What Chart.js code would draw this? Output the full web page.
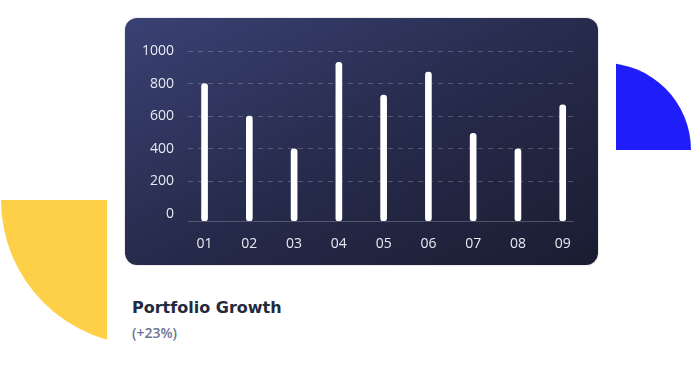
<!DOCTYPE html>
<html>
<head>
<meta charset="utf-8">
<script src="https://cdn.jsdelivr.net/npm/chart.js@4"></script>
<style>
  html, body { margin:0; padding:0; background:#ffffff; width:691px; height:380px; overflow:hidden; }
  #yellowClip { position:absolute; left:0; top:200px; width:107px; height:150px; overflow:hidden; }
  #yellow { position:absolute; left:1px; top:-145px; width:290px; height:290px; border-radius:50%; background:#fdd048; }
  #blueClip { position:absolute; left:616px; top:0; width:75px; height:150px; overflow:hidden; }
  #blue { position:absolute; left:-99px; top:63px; width:174px; height:174px; border-radius:50%; background:#1f1efb; }
  #card { position:absolute; left:125px; top:18px; width:473px; height:247px; border-radius:12px;
          background:linear-gradient(to bottom right, #3a4274 0%, #272b4c 50%, #1a1d31 100%);
          box-shadow:0 0 2px rgba(0,0,0,0.25); }
  #card canvas { position:absolute; left:0; top:0; }
  #title { position:absolute; left:132px; top:298px; font:bold 16px "DejaVu Sans", sans-serif; color:#232a3e; white-space:nowrap; }
  #sub { position:absolute; left:132px; top:323px; font:600 14px "Open Sans", sans-serif; color:#6b7494; white-space:nowrap; }
</style>
</head>
<body>
<div id="yellowClip"><div id="yellow"></div></div>
<div id="blueClip"><div id="blue"></div></div>
<div id="card"><canvas id="c" width="473" height="247"></canvas></div>
<div id="title">Portfolio Growth</div>
<div id="sub">(+23%)</div>
<script>
const categories = ['01','02','03','04','05','06','07','08','09'];
const values = [800, 600, 400, 930, 730, 870, 495, 400, 670];
const yTicks = [0, 200, 400, 600, 800, 1000];

const canvas = document.getElementById('c');
new Chart(canvas, {
  type: 'bar',
  data: {
    datasets: [{
      data: values.map((v, i) => ({ x: i + 1, y: v })),
      backgroundColor: '#ffffff',
      borderWidth: 0,
      barThickness: 6,
      borderRadius: 3,
      borderSkipped: false,
      base: -43
    }]
  },
  options: {
    responsive: false,
    animation: false,
    maintainAspectRatio: false,
    layout: { padding: { top: 33, right: 25, bottom: 0, left: 0 } },
    plugins: { legend: { display: false }, tooltip: { enabled: false } },
    scales: {
      x: {
        type: 'linear',
        offset: false,
        min: 0.63,
        max: 9.23,
        afterBuildTicks: s => { s.ticks = categories.map((c, i) => ({ value: i + 1 })); },
        afterFit: s => { s.height = 44; },
        grid: { display: true, color: 'rgba(0,0,0,0)', drawTicks: false, offset: false },
        border: { display: true, color: 'rgba(255,255,255,0.22)', width: 1 },
        ticks: {
          color: '#e8eaf2',
          font: { family: '"Open Sans", sans-serif', size: 14, weight: 500 },
          padding: 15,
          maxRotation: 0,
          autoSkip: false,
          callback: v => categories[Math.round(v) - 1]
        }
      },
      y: {
        min: -43,
        max: 1000,
        afterBuildTicks: s => { s.ticks = yTicks.map(v => ({ value: v })); },
        afterFit: s => { s.width = 63; },
        grid: {
          color: ctx => (ctx.tick && ctx.tick.value === 0) ? 'rgba(0,0,0,0)' : 'rgba(255,255,255,0.22)',
          drawTicks: false,
          lineWidth: 1
        },
        border: { display: false, dash: [5, 5] },
        ticks: {
          color: '#e8eaf2',
          font: { family: '"Open Sans", sans-serif', size: 14, weight: 500 },
          padding: 14,
          callback: v => String(v)
        }
      }
    }
  }
});
</script>
</body>
</html>
